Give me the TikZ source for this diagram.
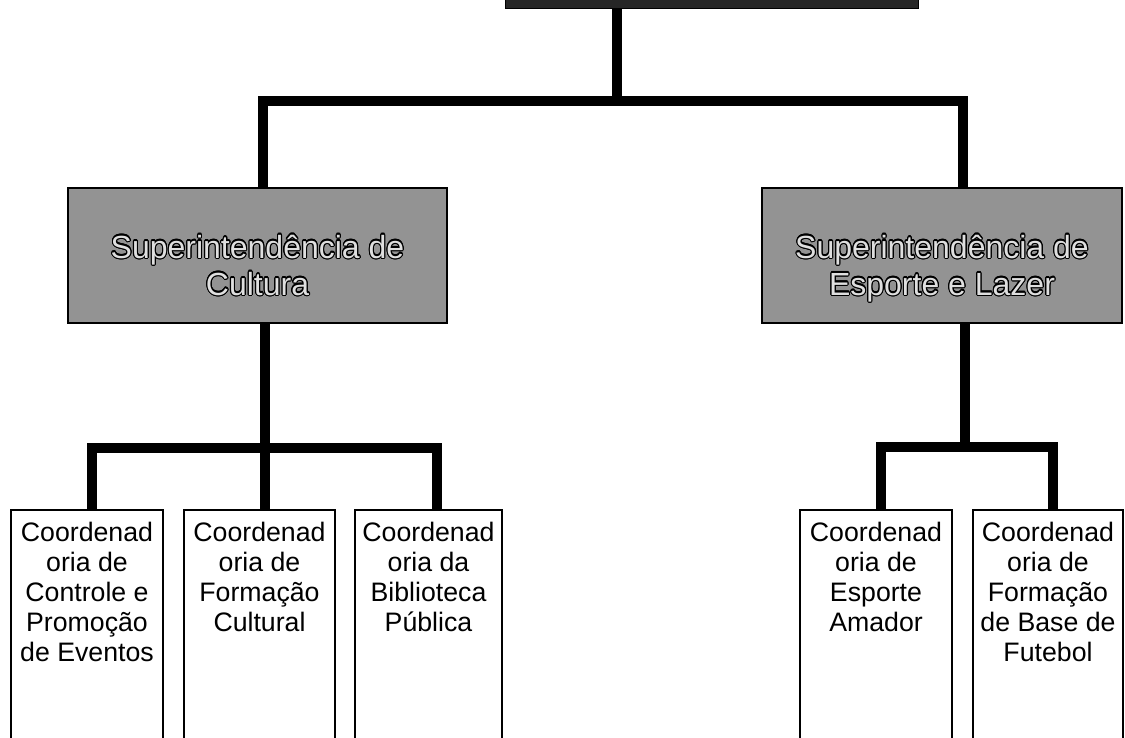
\documentclass[tikz,border=0pt]{standalone}
\usepackage{fontspec}
\setmainfont{Liberation Sans}
\usepackage{contour}
\contourlength{1.1pt}
\begin{document}
\begin{tikzpicture}[x=1pt,y=-1pt,
  conn/.style={line width=10pt,line join=miter,line cap=butt},
  supbox/.style={draw=black,line width=1.5pt,fill=gray!85,inner sep=0pt,
    minimum height=135pt,text height=30pt,text depth=25pt},
  coordbox/.style={draw=black,line width=1.3pt,fill=white,inner sep=0pt,
    minimum height=260pt,text height=20pt,text depth=218pt}
]
\useasboundingbox (0,0) rectangle (1125,737);
\clip (0,0) rectangle (1125,737);

% secretaria (top, cut by the frame)
\node[draw=black,fill=black!85,minimum width=413pt,minimum height=60pt] (top) at (711.5,-22) {};

% superintendências
\newcommand{\suplines}[2]{\parbox[t]{340pt}{\centering\fontsize{32}{37}\selectfont
  \leavevmode\color{gray!25}\contour{black}{#1}\\\contour{black}{#2}}}
\node[supbox,minimum width=379pt] (cult) at (257.5,255.5) {\suplines{Superintendência de}{Cultura}};
\node[supbox,minimum width=360pt] (esp) at (942,255.5) {\suplines{Superintendência de}{Esporte e Lazer}};

% coordenadorias
\newcommand{\coordlines}[1]{\parbox[t]{140pt}{\centering\fontsize{26.7}{30}\selectfont #1}}
\node[coordbox,minimum width=152pt] (b1) at (87,640)
  {\coordlines{Coordenad\\oria de\\Controle e\\Promoção\\de Eventos}};
\node[coordbox,minimum width=151pt] (b2) at (259.5,640)
  {\coordlines{Coordenad\\oria de\\Formação\\Cultural}};
\node[coordbox,minimum width=147pt] (b3) at (428.5,640)
  {\coordlines{Coordenad\\oria da\\Biblioteca\\Pública}};
\node[coordbox,minimum width=152pt] (b4) at (876,640)
  {\coordlines{Coordenad\\oria de\\Esporte\\Amador}};
\node[coordbox,minimum width=150pt] (b5) at (1048,640)
  {\coordlines{Coordenad\\oria de\\Formação\\de Base de\\Futebol}};

% connector end points
\coordinate (t0) at ([xshift=-94.5pt]top.south);
\coordinate (c0) at ([xshift=5.5pt]cult.north);
\coordinate (e0) at ([xshift=21pt]esp.north);
\coordinate (c1) at ([xshift=7.5pt]cult.south);
\coordinate (e1) at ([xshift=23pt]esp.south);
\coordinate (l1) at ([xshift=5pt]b1.north);
\coordinate (l2) at ([xshift=5.5pt]b2.north);
\coordinate (l3) at ([xshift=8.5pt]b3.north);
\coordinate (l4) at ([xshift=5pt]b4.north);
\coordinate (l5) at ([xshift=5pt]b5.north);
\coordinate (barA) at (0,101);
\coordinate (barB) at (0,448);
\coordinate (barC) at (0,447);

% top level
\draw[conn] (t0) -- (t0 |- barA);
\draw[conn] (t0 |- barA) -| (c0);
\draw[conn] (t0 |- barA) -| (e0);

% cultura
\draw[conn] (c1) -- (l2);
\draw[conn] (l1) -- (l1 |- barB) -| (l3);

% esporte e lazer
\draw[conn] (e1) -- (e1 |- barC);
\draw[conn] (l4) -- (l4 |- barC) -| (l5);
\end{tikzpicture}
\end{document}
